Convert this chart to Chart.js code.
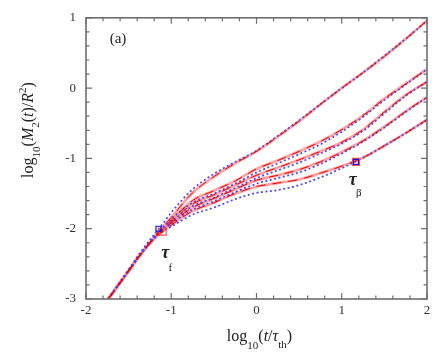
<!DOCTYPE html>
<html><head><meta charset="utf-8">
<script src="https://cdn.jsdelivr.net/npm/chart.js@4/dist/chart.umd.min.js"></script>
<style>html,body{margin:0;padding:0;background:#fff}</style>
</head><body>
<canvas id="c" width="436" height="361"></canvas>
<script>
// ---- data ----
const xValues = [-1.74, -1.5, -1.37, -1.2, -1.1, -1.0, -0.75, -0.5, -0.25, 0, 0.25, 0.5, 0.75, 1.0, 1.25, 1.5, 1.75, 2.0];

const redA = [-3.0, -2.6, -2.38, -2.12, -1.98, -1.84, -1.49, -1.26, -1.07, -0.90, -0.69, -0.47, -0.23, 0.0, 0.22, 0.45, 0.70, 0.96];
const redB = [-3.0, -2.6, -2.38, -2.13, -2.0, -1.88, -1.60, -1.46, -1.32, -1.15, -1.03, -0.90, -0.76, -0.59, -0.39, -0.15, 0.06, 0.27];
const redC = [-3.0, -2.6, -2.38, -2.13, -2.01, -1.90, -1.65, -1.52, -1.38, -1.24, -1.13, -1.02, -0.90, -0.77, -0.59, -0.34, -0.10, 0.09];
const redD = [-3.0, -2.6, -2.38, -2.14, -2.02, -1.92, -1.70, -1.57, -1.44, -1.31, -1.24, -1.16, -1.05, -0.91, -0.75, -0.55, -0.33, -0.13];
const redE = [-3.0, -2.6, -2.38, -2.14, -2.04, -1.95, -1.75, -1.63, -1.50, -1.40, -1.35, -1.30, -1.21, -1.11, -0.99, -0.82, -0.64, -0.45];

const blueA = [-3.0, -2.58, -2.35, -2.08, -1.93, -1.77, -1.44, -1.22, -1.05, -0.89, -0.68, -0.46, -0.23, 0.0, 0.22, 0.46, 0.70, 0.96];
const blueB = [-3.0, -2.6, -2.38, -2.12, -1.98, -1.86, -1.63, -1.50, -1.36, -1.20, -1.07, -0.94, -0.80, -0.62, -0.41, -0.17, 0.05, 0.27];
const blueC = [-3.0, -2.6, -2.38, -2.12, -2.00, -1.90, -1.68, -1.56, -1.42, -1.28, -1.17, -1.06, -0.93, -0.79, -0.61, -0.36, -0.11, 0.09];
const blueD = [-3.0, -2.6, -2.38, -2.13, -2.02, -1.93, -1.73, -1.61, -1.48, -1.36, -1.28, -1.20, -1.08, -0.93, -0.76, -0.56, -0.34, -0.13];
const blueE = [-3.0, -2.6, -2.38, -2.14, -2.04, -1.97, -1.80, -1.70, -1.58, -1.49, -1.45, -1.38, -1.27, -1.14, -0.99, -0.82, -0.64, -0.45];

const markerX = [-1.15, 1.167];
const markerY = [-2.0, -1.05];
const markerRedX = [-1.1, 1.167];
const markerRedY = [-2.04, -1.05];

const xTickValues = [-2, -1, 0, 1, 2];
const yTickValues = [-3, -2, -1, 0, 1];

// ---- build ----
const mk = ys => xValues.map((x, i) => ({x: x, y: ys[i]}));
const reds = [redA, redB, redC, redD, redE];
const blues = [blueA, blueB, blueC, blueD, blueE];
const datasets = [];
reds.forEach(r => datasets.push({order: 4, data: mk(r), borderColor: 'rgba(255,140,140,0.8)', borderWidth: 2.8, pointRadius: 0, cubicInterpolationMode: 'monotone'}));
blues.forEach(b => datasets.push({order: 3, data: mk(b), borderColor: '#4b4bf0', borderWidth: 1.7, borderDash: [2, 2.5], pointRadius: 0, cubicInterpolationMode: 'monotone'}));
reds.forEach(r => datasets.push({order: 2, data: mk(r), borderColor: '#f00000', borderWidth: 1, borderDash: [9, 7], pointRadius: 0, cubicInterpolationMode: 'monotone'}));
datasets.push({order: 1, type: 'scatter', data: markerRedX.map((x, i) => ({x: x, y: markerRedY[i]})), pointStyle: 'rect', pointRadius: 5, borderColor: '#ff5050', borderWidth: 1.2, backgroundColor: 'rgba(0,0,0,0)'});
datasets.push({order: 0, type: 'scatter', data: markerX.map((x, i) => ({x: x, y: markerY[i]})), pointStyle: 'rect', pointRadius: 3.5, borderColor: '#1010e0', borderWidth: 1.2, backgroundColor: 'rgba(0,0,0,0)'});

const SERIF = '"Liberation Serif", "Times New Roman", serif';

function drawRich(ctx, segs, cx, cy) {
  let total = 0;
  segs.forEach(s => { ctx.font = s.f; s.w = ctx.measureText(s.t).width; total += s.w; });
  let x = cx - total / 2;
  ctx.textBaseline = 'alphabetic';
  ctx.textAlign = 'left';
  segs.forEach(s => { ctx.font = s.f; ctx.fillText(s.t, x, cy + (s.dy || 0)); x += s.w; });
}

const framePlugin = {
  id: 'frame',
  afterDraw(chart) {
    const ctx = chart.ctx, a = chart.chartArea;
    const xs = chart.scales.x, ys = chart.scales.y;
    ctx.save();
    ctx.strokeStyle = '#6e6e6e';
    ctx.lineWidth = 1.6;
    ctx.strokeRect(a.left, a.top, a.right - a.left, a.bottom - a.top);
    ctx.lineWidth = 1.2;
    ctx.beginPath();
    for (let i = 0; i <= 20; i++) {
      const v = xs.min + i * 0.2;
      const len = (i % 5 === 0) ? 6 : 3.5;
      const p = xs.getPixelForValue(v);
      ctx.moveTo(p, a.bottom); ctx.lineTo(p, a.bottom - len);
      ctx.moveTo(p, a.top); ctx.lineTo(p, a.top + len);
    }
    for (let i = 0; i <= 20; i++) {
      const v = ys.min + i * 0.2;
      const len = (i % 5 === 0) ? 6 : 3.5;
      const p = ys.getPixelForValue(v);
      ctx.moveTo(a.left, p); ctx.lineTo(a.left + len, p);
      ctx.moveTo(a.right, p); ctx.lineTo(a.right - len, p);
    }
    ctx.stroke();

    ctx.fillStyle = '#222';
    // x title
    drawRich(ctx, [
      {t: 'log', f: '16px ' + SERIF},
      {t: '10', f: '11px ' + SERIF, dy: 8},
      {t: '(', f: '16px ' + SERIF},
      {t: 't', f: 'italic 16px ' + SERIF},
      {t: '/', f: '16px ' + SERIF},
      {t: 'τ', f: 'italic 16px ' + SERIF},
      {t: 'th', f: '11px ' + SERIF, dy: 7},
      {t: ')', f: '16px ' + SERIF}
    ], (a.left + a.right) / 2 + 3, 341);
    // y title
    ctx.save();
    ctx.translate(33, 130);
    ctx.rotate(-Math.PI / 2);
    drawRich(ctx, [
      {t: 'log', f: '16px ' + SERIF},
      {t: '10', f: '11px ' + SERIF, dy: 7},
      {t: '(', f: '16px ' + SERIF},
      {t: 'M', f: 'italic 16px ' + SERIF},
      {t: '2', f: '11px ' + SERIF, dy: 6},
      {t: '(', f: '16px ' + SERIF},
      {t: 't', f: 'italic 16px ' + SERIF},
      {t: ')/', f: '16px ' + SERIF},
      {t: 'R', f: 'italic 16px ' + SERIF},
      {t: '2', f: '11px ' + SERIF, dy: -7},
      {t: ')', f: '16px ' + SERIF}
    ], 0, 0);
    ctx.restore();

    // annotations
    ctx.fillStyle = '#222';
    ctx.textAlign = 'center';
    ctx.textBaseline = 'alphabetic';
    ctx.font = '15px ' + SERIF;
    ctx.fillText('(a)', xs.getPixelForValue(-1.625), ys.getPixelForValue(0.64));
    ctx.font = 'bold italic 18px ' + SERIF;
    ctx.fillText('τ', xs.getPixelForValue(-1.07), ys.getPixelForValue(-2.42));
    ctx.fillText('τ', xs.getPixelForValue(1.13), ys.getPixelForValue(-1.38));
    ctx.font = '11px ' + SERIF;
    ctx.fillText('f', xs.getPixelForValue(-1.01), ys.getPixelForValue(-2.6));
    ctx.fillText('β', xs.getPixelForValue(1.2), ys.getPixelForValue(-1.53));
    ctx.restore();
  }
};

new Chart(document.getElementById('c'), {
  type: 'line',
  data: {datasets: datasets},
  options: {
    responsive: false,
    devicePixelRatio: 1,
    animation: false,
    events: [],
    layout: {padding: {top: 12, right: 9, left: 0, bottom: 0}},
    plugins: {legend: {display: false}, tooltip: {enabled: false}},
    scales: {
      x: {
        type: 'linear', min: -2, max: 2,
        afterFit: s => { s.height = 62; },
        afterBuildTicks: s => { s.ticks = xTickValues.map(v => ({value: v})); },
        ticks: {padding: 4, color: '#333', font: {family: SERIF, size: 13}},
        grid: {display: false, drawTicks: false},
        border: {display: false}
      },
      y: {
        type: 'linear', min: -3, max: 1,
        afterFit: s => { s.width = 86; },
        afterBuildTicks: s => { s.ticks = yTickValues.map(v => ({value: v})); },
        ticks: {padding: 10, color: '#333', font: {family: SERIF, size: 13}},
        grid: {display: false, drawTicks: false},
        border: {display: false}
      }
    }
  },
  plugins: [framePlugin]
});
</script>
</body></html>
